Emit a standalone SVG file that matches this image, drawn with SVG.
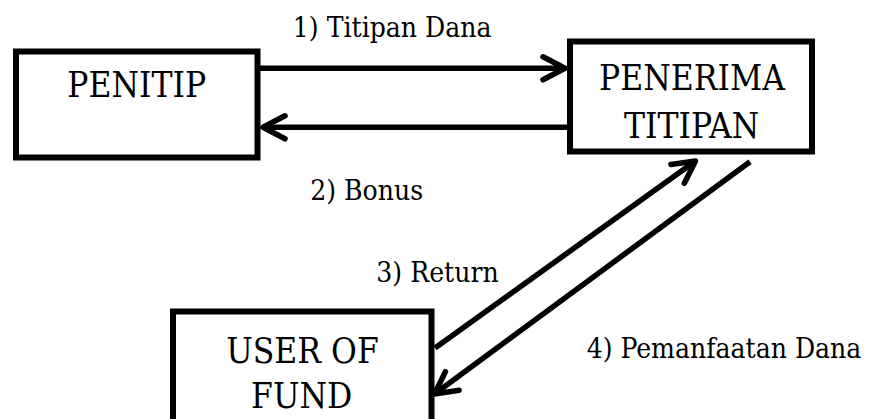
<svg xmlns="http://www.w3.org/2000/svg" width="870" height="419" viewBox="0 0 870 419">
<style>
.box{fill:#fff;stroke:#000;stroke-width:6}
.t{fill:#000;text-anchor:middle;font-family:"DejaVu Serif",serif;font-stretch:condensed}
.big{font-size:35px}
.lbl{font-size:28px}
.ln{stroke:#000;stroke-width:5.5;fill:none}
</style>
<defs>
<marker id="ah" markerUnits="userSpaceOnUse" markerWidth="40" markerHeight="40" viewBox="-30 -20 40 40" refX="0" refY="0" orient="auto" overflow="visible">
<path d="M-22,-11.5 L0,0 L-22,11.5" fill="none" stroke="#000" stroke-width="5.5" stroke-linecap="round" stroke-linejoin="round"/>
</marker>
</defs>
<g id="connectors">
<line class="ln" x1="260" y1="68.3" x2="565" y2="68.3" marker-end="url(#ah)"/>
<line class="ln" x1="570" y1="127.3" x2="263" y2="127.3" marker-end="url(#ah)"/>
<line class="ln" x1="435" y1="348" x2="695.5" y2="161" marker-end="url(#ah)"/>
<line class="ln" x1="750" y1="161.7" x2="434.5" y2="394" marker-end="url(#ah)"/>
</g>
<g id="penitip">
<rect class="box" x="16" y="51.5" width="241.5" height="106"/>
<text class="t big" x="136.7" y="96.7">PENITIP</text>
</g>
<g id="penerima">
<rect class="box" x="570" y="41.5" width="242" height="110"/>
<text class="t big" x="692" y="90">PENERIMA</text>
<text class="t big" x="691.7" y="138.3">TITIPAN</text>
</g>
<g id="user">
<rect class="box" x="173" y="311.5" width="258.5" height="115"/>
<text class="t big" x="302.5" y="363.3">USER OF</text>
<text class="t big" x="301.7" y="408.3">FUND</text>
</g>
<g id="labels">
<text class="t lbl" x="392.2" y="36.7">1) Titipan Dana</text>
<text class="t lbl" x="366.7" y="200">2) Bonus</text>
<text class="t lbl" x="437.5" y="281.7">3) Return</text>
<text class="t lbl" x="724" y="358.3">4) Pemanfaatan Dana</text>
</g>
</svg>
